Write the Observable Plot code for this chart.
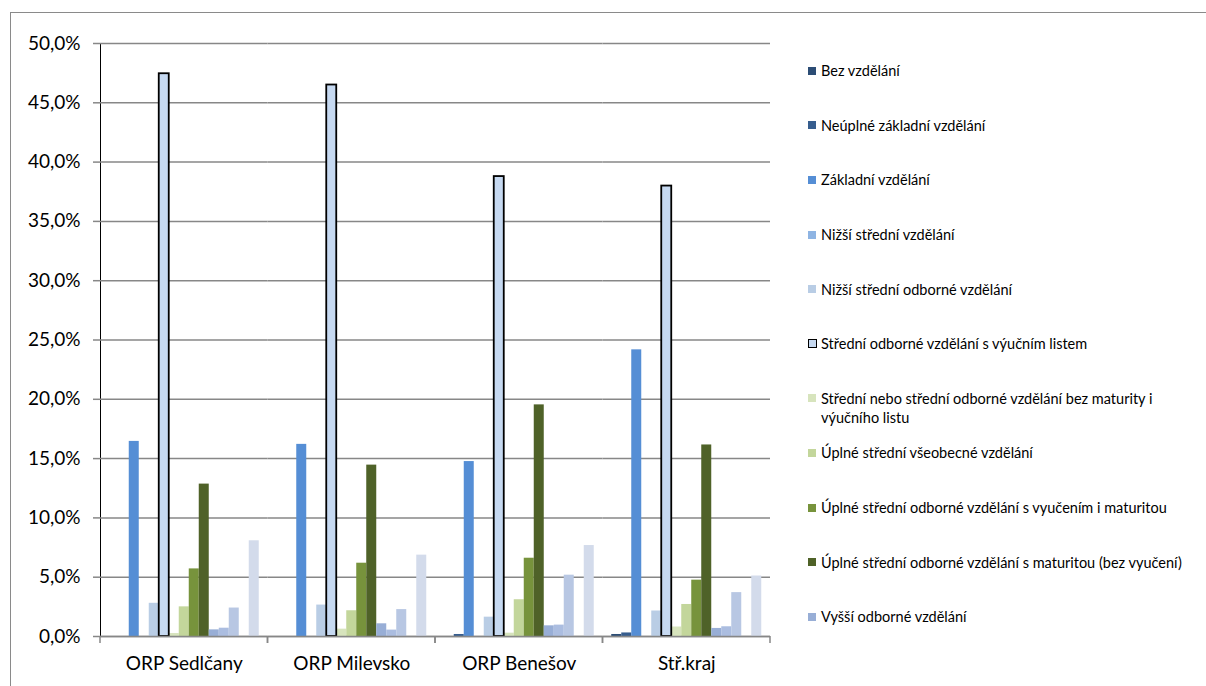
<!DOCTYPE html>
<html><head><meta charset="utf-8">
<script src="https://cdn.jsdelivr.net/npm/d3@7"></script>
<script src="https://cdn.jsdelivr.net/npm/@observablehq/plot@0.6"></script>
<style>
html,body{margin:0;padding:0;background:#fff;}
#wrap{position:relative;width:1206px;height:686px;overflow:hidden;font-family:Lato,sans-serif;}
#frame{position:absolute;left:10px;top:12px;width:1200px;height:680px;border-left:1.5px solid #8a8a8a;border-top:1.5px solid #8a8a8a;}
#chart{position:absolute;left:0;top:0;}
#chart svg [aria-label^="y-axis"] line, #chart svg [aria-label^="y-axis"] path{stroke:#878787;stroke-width:1.5px;}
.leg{position:absolute;left:808px;width:385px;font-size:14.5px;line-height:19px;color:#000;padding-left:13px;}
.sw{position:absolute;left:0;top:5.5px;width:8px;height:8px;box-sizing:border-box;}
</style></head>
<body><div id="wrap"><div id="frame"></div><div id="chart"></div><div id="legend"></div></div>
<script>
const groups = ["ORP Sedlčany", "ORP Milevsko", "ORP Benešov", "Stř.kraj"];
const series = [
  "Bez vzdělání",
  "Neúplné základní vzdělání",
  "Základní vzdělání",
  "Nižší střední vzdělání",
  "Nižší střední odborné vzdělání",
  "Střední odborné vzdělání s výučním listem",
  "Střední nebo střední odborné vzdělání bez maturity i výučního listu",
  "Úplné střední všeobecné vzdělání",
  "Úplné střední odborné vzdělání s vyučením i maturitou",
  "Úplné střední odborné vzdělání s maturitou (bez vyučení)",
  "Vyšší  odborné vzdělání",
  "Bakalářské vzdělání",
  "Vysokoškolské vzdělání",
  "Doktorské vzdělání",
  "Nezjištěno"
];
const colors = ["#2c4d75", "#365d8e", "#558ed5", "#8eb4e3", "#b9cde5", "#c6d9f1", "#d7e4bd", "#c3d69b", "#77933c", "#4f6228", "#98aed6", "#abbde0", "#b8c7e3", "#c6d0e8", "#d3dbeb"];
// values in percent, one list per group, in series order
const sedlcany = [0, 0, 16.45, 0, 2.8, 47.45, 0.25, 2.5, 5.7, 12.85, 0.56, 0.7, 2.4, 0, 8.07];
const milevsko = [0, 0, 16.2, 0, 2.65, 46.5, 0.62, 2.17, 6.18, 14.45, 1.07, 0.54, 2.27, 0, 6.86];
const benesov  = [0, 0.17, 14.75, 0, 1.63, 38.78, 0.28, 3.1, 6.6, 19.53, 0.9, 0.96, 5.17, 0, 7.67];
const kraj     = [0.17, 0.3, 24.17, 0, 2.15, 37.98, 0.8, 2.7, 4.75, 16.15, 0.68, 0.82, 3.7, 0, 5.1];
const yTicks = [0, 0.05, 0.10, 0.15, 0.20, 0.25, 0.30, 0.35, 0.40, 0.45, 0.50];
const legendCount = 11;

const valuesByGroup = [sedlcany, milevsko, benesov, kraj];
const data = [];
groups.forEach((g, gi) => valuesByGroup[gi].forEach((v, si) => data.push({group: g, series: series[si], value: v / 100})));

// short tick marks at the category boundaries, placed from the library's x scale
function boundaryTicks(index, scales, values, dimensions) {
  const x = scales.x;
  const step = x(series[1]) - x(series[0]);
  const left = x(series[0]) - 0.875 * step;
  const right = x(series[series.length - 1]) + step + 0.875 * step;
  const y0 = scales.y(0);
  const g = d3.create("svg:g").attr("stroke", "#878787").attr("stroke-width", 1.5);
  [left, right].forEach(px => g.append("line").attr("x1", px).attr("x2", px).attr("y1", y0).attr("y2", y0 + 7));
  return g.node();
}

const chart = Plot.plot({
  width: 1206, height: 686,
  marginLeft: 100, marginRight: 436, marginTop: 43, marginBottom: 50,
  style: {fontFamily: "Lato, sans-serif", fontSize: "19px", color: "#000", background: "transparent", overflow: "visible"},
  fx: {domain: groups, padding: 0, round: false, axis: "bottom", tickSize: 0, tickPadding: 20, label: null},
  x: {domain: series, paddingInner: 0, paddingOuter: 0.875, round: false, axis: null},
  y: {domain: [0, 0.5], ticks: yTicks, tickFormat: d => (d * 100).toFixed(1).replace(".", ",") + "%", tickSize: 7, tickPadding: 13, label: null, line: true},
  color: {domain: series, range: colors},
  marks: [
    Plot.ruleY(yTicks, {stroke: "#878787", strokeWidth: 1.5}),
    Plot.barY(data, {fx: "group", x: "series", y: "value", fill: "series"}),
    Plot.barY(data, {filter: d => d.series === series[5], fx: "group", x: "series", y: "value", fill: "none", stroke: "#000", strokeWidth: 1.8}),
    Plot.ruleY([0], {stroke: "#878787", strokeWidth: 1.5}),
    boundaryTicks
  ]
});
document.getElementById("chart").appendChild(chart);

const legend = document.getElementById("legend");
series.slice(0, legendCount).forEach((s, i) => {
  const item = document.createElement("div");
  item.className = "leg";
  item.style.top = (70.7 - 9.5 + i * 54.6) + "px";
  const sw = document.createElement("div");
  sw.className = "sw";
  sw.style.background = colors[i];
  if (i === 5) { sw.style.border = "1.5px solid #000"; sw.style.width = "9px"; sw.style.height = "9px"; sw.style.top = "5px"; }
  item.appendChild(sw);
  item.appendChild(document.createTextNode(s));
  legend.appendChild(item);
});
</script>
</body></html>
